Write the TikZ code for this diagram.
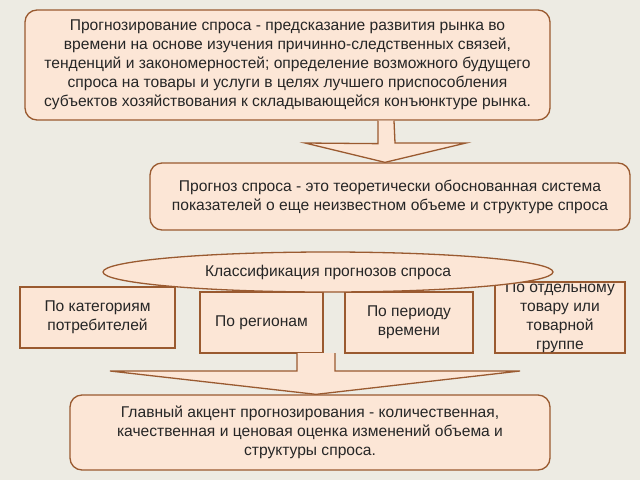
\documentclass[tikz,border=0pt]{standalone}
\usepackage{fontspec}
\setmainfont{Liberation Sans}
\usetikzlibrary{shapes.geometric}
\definecolor{bgc}{HTML}{EDEBE3}
\definecolor{boxf}{HTML}{FCE6D6}
\definecolor{boxd}{HTML}{9A5A30}
\begin{document}
\begin{tikzpicture}[x=1pt,y=-1pt,
  every node/.style={font=\fontsize{15.6}{19}\selectfont, text=black!85},
  rbox/.style={draw=boxd, fill=boxf, line width=1.3pt, rounded corners=12pt, inner sep=0pt, align=center},
  sbox/.style={draw=boxd, fill=boxf, line width=1.3pt, inner sep=0pt, align=center},
  arr/.style={draw=boxd, fill=boxf, line width=1.3pt, line join=miter}]
\fill[bgc] (0,0) rectangle (640,480);
\useasboundingbox (0,0) rectangle (640,480);
% top box
\node[rbox, minimum width=525pt, minimum height=110pt] (top) at (287.5,65)
 {Прогнозирование спроса - предсказание развития рынка во\\времени на основе изучения причинно-следственных связей,\\тенденций и закономерностей; определение возможного будущего\\спроса на товары и услуги в целях лучшего приспособления\\субъектов хозяйствования к складывающейся конъюнктуре рынка.};
% second box
\node[rbox, minimum width=480pt, minimum height=67pt] (second) at (390,196.5)
 {Прогноз спроса - это теоретически обоснованная система\\показателей о еще неизвестном объеме и структуре спроса};
% arrow 1
\draw[arr] ([xshift=-8pt]top.south -| 386,0) -- ++(0,23) -- (305,143) -- (second.north -| 385,0) -- (466,143) -- (395,143) -- ([xshift=8pt]top.south -| 386,0);
% category boxes
\node[sbox, minimum width=155pt, minimum height=61pt] (c1) at (97.5,317.5) {По категориям\\потребителей};
\node[sbox, minimum width=123pt, minimum height=61pt] (c2) at (261.5,322.5) {По регионам};
\node[sbox, minimum width=128pt, minimum height=61pt] (c3) at (409,322.5) {По периоду\\времени};
\node[sbox, minimum width=130pt, minimum height=61pt] (c4) at (560,317.5) {По отдельному\\товару или\\товарной\\группе};
% ellipse
\node[ellipse, draw=boxd, fill=boxf, line width=1.3pt, minimum width=450pt, minimum height=40pt, inner sep=0pt] (cls) at (328,272) {Классификация прогнозов спроса};
% bottom box
\node[rbox, minimum width=480pt, minimum height=75pt] (bottom) at (310,432.5)
 {Главный акцент прогнозирования - количественная,\\качественная и ценовая оценка изменений объема и\\структуры спроса.};
% arrow 2
\coordinate (s1) at (297,353);
\coordinate (s2) at (335,353);
\draw[arr] (s1) -- (297,371) -- (110,371) -- (bottom.north -| 316,0) -- (520,371) -- (335,371) -- (s2);
\end{tikzpicture}
\end{document}
